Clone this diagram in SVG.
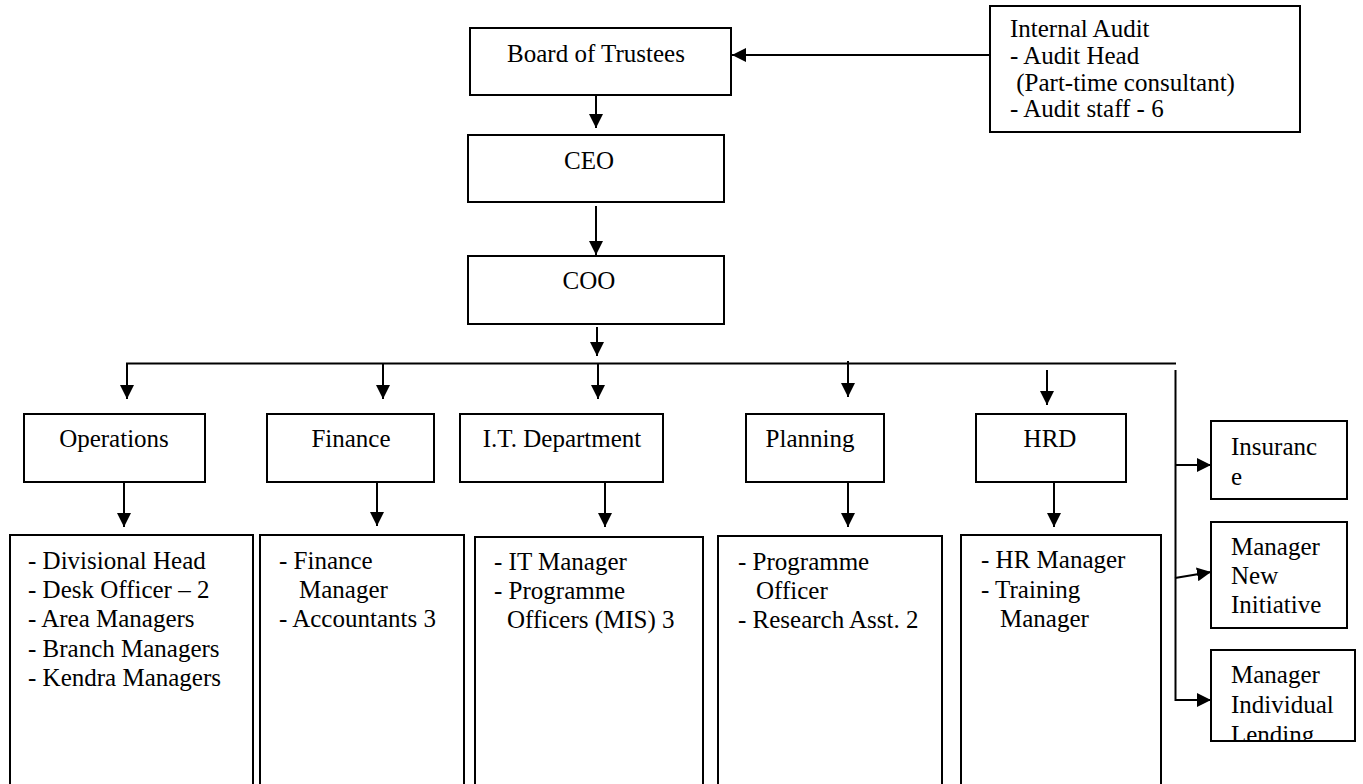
<svg xmlns="http://www.w3.org/2000/svg" width="1363" height="784" viewBox="0 0 1363 784">
<style>
.box{fill:#fff;stroke:#000;stroke-width:2}
.t{font-family:"Liberation Serif","Times New Roman",serif;font-size:25px;fill:#000}
.c{text-anchor:middle}
.ln{stroke:#000;stroke-width:2;fill:none}
.ar{stroke:#000;stroke-width:2;fill:none;marker-end:url(#ah)}
</style>
<defs>
<marker id="ah" viewBox="0 0 14 14" refX="14" refY="7" markerWidth="14" markerHeight="14" markerUnits="userSpaceOnUse" orient="auto">
<path d="M0,0 L14,7 L0,14 z" fill="#000"/>
</marker>
<clipPath id="clipLend"><rect x="1211" y="650" width="144" height="90"/></clipPath>
</defs>
<rect width="1363" height="784" fill="#fff"/>

<g id="connectors">
<line class="ar" x1="989" y1="55" x2="732" y2="55"/>
<line class="ar" x1="596" y1="95" x2="596" y2="128"/>
<line class="ar" x1="596" y1="206" x2="596" y2="255"/>
<line class="ar" x1="597" y1="327" x2="597" y2="356"/>
<line class="ln" x1="126" y1="363.5" x2="1176" y2="363.5"/>
<line class="ar" x1="127" y1="363" x2="127" y2="399"/>
<line class="ar" x1="383" y1="363" x2="383" y2="399"/>
<line class="ar" x1="598" y1="363" x2="598" y2="399"/>
<line class="ar" x1="848" y1="361" x2="848" y2="397"/>
<line class="ar" x1="1047" y1="370" x2="1047" y2="405"/>
<line class="ln" x1="1175.5" y1="370" x2="1175.5" y2="701"/>
<line class="ar" x1="1175" y1="465" x2="1211" y2="465"/>
<line class="ar" x1="1175" y1="578" x2="1211" y2="572"/>
<line class="ar" x1="1175" y1="700" x2="1211" y2="700"/>
<line class="ar" x1="124" y1="482" x2="124" y2="527"/>
<line class="ar" x1="377" y1="482" x2="377" y2="526"/>
<line class="ar" x1="605" y1="482" x2="605" y2="527"/>
<line class="ar" x1="848" y1="482" x2="848" y2="527"/>
<line class="ar" x1="1054" y1="478" x2="1054" y2="527"/>
</g>

<g id="board">
<rect class="box" x="470" y="28" width="261" height="67"/>
<text class="t c" x="596" y="62">Board of Trustees</text>
</g>
<g id="internal-audit">
<rect class="box" x="990" y="6" width="310" height="126"/>
<text class="t" x="1010" y="37">Internal Audit</text>
<text class="t" x="1010" y="64">- Audit Head</text>
<text class="t" x="1010" y="91" xml:space="preserve"> (Part-time consultant)</text>
<text class="t" x="1010" y="117">- Audit staff - 6</text>
</g>
<g id="ceo">
<rect class="box" x="468" y="135" width="256" height="67"/>
<text class="t c" x="589" y="169">CEO</text>
</g>
<g id="coo">
<rect class="box" x="468" y="256" width="256" height="68"/>
<text class="t c" x="589" y="289">COO</text>
</g>

<g id="operations">
<rect class="box" x="24" y="414" width="181" height="68"/>
<text class="t c" x="114" y="447">Operations</text>
</g>
<g id="finance">
<rect class="box" x="267" y="414" width="167" height="68"/>
<text class="t c" x="351" y="447">Finance</text>
</g>
<g id="it-department">
<rect class="box" x="460" y="414" width="203" height="68"/>
<text class="t c" x="562" y="447">I.T. Department</text>
</g>
<g id="planning">
<rect class="box" x="746" y="414" width="138" height="68"/>
<text class="t c" x="810" y="447">Planning</text>
</g>
<g id="hrd">
<rect class="box" x="976" y="414" width="150" height="68"/>
<text class="t c" x="1050" y="447">HRD</text>
</g>

<g id="operations-staff">
<rect class="box" x="10" y="535" width="243" height="270"/>
<text class="t" x="28" y="569">- Divisional Head</text>
<text class="t" x="28" y="598">- Desk Officer – 2</text>
<text class="t" x="28" y="627">- Area Managers</text>
<text class="t" x="28" y="657">- Branch Managers</text>
<text class="t" x="28" y="686">- Kendra Managers</text>
</g>
<g id="finance-staff">
<rect class="box" x="260" y="535" width="204" height="270"/>
<text class="t" x="279" y="569">- Finance</text>
<text class="t" x="299" y="598">Manager</text>
<text class="t" x="279" y="627">- Accountants 3</text>
</g>
<g id="it-staff">
<rect class="box" x="475" y="537" width="228" height="270"/>
<text class="t" x="494" y="570">- IT Manager</text>
<text class="t" x="494" y="599">- Programme</text>
<text class="t" x="507" y="628">Officers (MIS) 3</text>
</g>
<g id="planning-staff">
<rect class="box" x="718" y="536" width="224" height="270"/>
<text class="t" x="738" y="570">- Programme</text>
<text class="t" x="756" y="599">Officer</text>
<text class="t" x="738" y="628">- Research Asst. 2</text>
</g>
<g id="hrd-staff">
<rect class="box" x="961" y="535" width="200" height="270"/>
<text class="t" x="981" y="568">- HR Manager</text>
<text class="t" x="981" y="598">- Training</text>
<text class="t" x="1000" y="627">Manager</text>
</g>

<g id="insurance">
<rect class="box" x="1211" y="421" width="136" height="78"/>
<text class="t" x="1231" y="455">Insuranc</text>
<text class="t" x="1231" y="485">e</text>
</g>
<g id="manager-new-initiative">
<rect class="box" x="1211" y="522" width="136" height="106"/>
<text class="t" x="1231" y="555">Manager</text>
<text class="t" x="1231" y="584">New</text>
<text class="t" x="1231" y="613">Initiative</text>
</g>
<g id="manager-individual-lending">
<rect class="box" x="1211" y="650" width="144" height="91"/>
<text class="t" x="1231" y="683">Manager</text>
<text class="t" x="1231" y="713">Individual</text>
<text class="t" x="1231" y="743" clip-path="url(#clipLend)">Lending</text>
</g>
</svg>
